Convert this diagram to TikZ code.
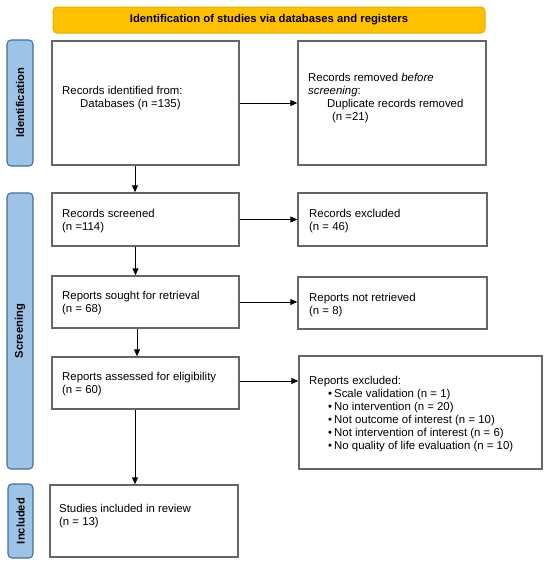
\documentclass[tikz,border=0pt]{standalone}
\usepackage{fontspec}
\setmainfont{Liberation Sans}
\usetikzlibrary{arrows.meta}
\begin{document}
\begin{tikzpicture}[x=1pt,y=-1pt,
  box/.style={draw=black!60, line width=1.4pt, fill=white, inner sep=0pt},
  side/.style={line width=1.1pt, fill=sideblue, rounded corners=4pt, inner sep=0pt},
  sidetext/.style={rotate=90, font=\fontsize{11.2}{13}\selectfont\bfseries, inner sep=0pt},
  txt/.style={anchor=north west, align=left, inner sep=0pt, font=\fontsize{11.4}{13}\selectfont},
  arr/.style={line width=1pt, -{Triangle[length=7pt,width=6pt]}}]
\definecolor{sideblue}{HTML}{9DC3E6}
\definecolor{sideedge}{HTML}{41719C}
\definecolor{headfill}{HTML}{FFC000}
\definecolor{headedge}{HTML}{E6AC00}
\useasboundingbox (0,0) rectangle (550,565);
\fill[white] (0,0) rectangle (550,565);
% header
\node[draw=headedge, line width=1pt, fill=headfill, rounded corners=4pt, minimum width=432pt, minimum height=26pt, inner sep=0pt,
  font=\fontsize{11.3}{13}\selectfont\bfseries] (head) at (269,20) {Identification of studies via databases and registers};
% side labels
\node[side, draw=sideedge, minimum width=26pt, minimum height=126pt] (L1) at (20,103) {};
\node[sidetext] (L1t) at (L1.center) {Identification};
\node[side, draw=sideedge, minimum width=26pt, minimum height=276pt] (L2) at (20,331) {};
\node[sidetext] (L2t) at (L2.center) {Screening};
\node[side, draw=sideedge, minimum width=25pt, minimum height=74pt] (L3) at (20.5,521) {};
\node[sidetext] (L3t) at (L3.center) {Included};
% boxes
\node[box, minimum width=187pt, minimum height=124pt] (B1) at (145.5,103) {};
\node[box, minimum width=188pt, minimum height=124pt] (B2) at (392,103) {};
\node[box, minimum width=187pt, minimum height=53pt] (S1) at (145.5,219.5) {};
\node[box, minimum width=189pt, minimum height=53pt] (S2) at (392.5,219.5) {};
\node[box, minimum width=187pt, minimum height=52pt] (R1) at (145.5,302) {};
\node[box, minimum width=189pt, minimum height=52pt] (R2) at (392.5,303) {};
\node[box, minimum width=187pt, minimum height=52pt] (A1) at (145.5,383) {};
\node[box, minimum width=243pt, minimum height=113pt] (A2) at (420.5,412.5) {};
\node[box, minimum width=188pt, minimum height=72pt] (I1) at (144,521) {};
% texts
\node[txt] (B1t) at (62,85.7) {Records identified from:\\\hspace*{18pt}Databases (n =135)};
\node[txt] (B2t) at (308,72.7) {Records removed \textit{before}\\\textit{screening}:\\\hspace*{19pt}Duplicate records removed\\\hspace*{24pt}(n =21)};
\node[txt] (S1t) at (62,208.7) {Records screened\\(n =114)};
\node[txt] (S2t) at (309,208.7) {Records excluded\\(n = 46)};
\node[txt] (R1t) at (62,290.7) {Reports sought for retrieval\\(n = 68)};
\node[txt] (R2t) at (309,292.7) {Reports not retrieved\\(n = 8)};
\node[txt] (A1t) at (62,371.7) {Reports assessed for eligibility\\(n = 60)};
\node[txt] (A2t) at (309,375.7) {Reports excluded:\\
\hspace*{19pt}\textbullet\hspace{2pt}Scale validation (n = 1)\\
\hspace*{19pt}\textbullet\hspace{2pt}No intervention (n = 20)\\
\hspace*{19pt}\textbullet\hspace{2pt}Not outcome of interest (n = 10)\\
\hspace*{19pt}\textbullet\hspace{2pt}Not intervention of interest (n = 6)\\
\hspace*{19pt}\textbullet\hspace{2pt}No quality of life evaluation (n = 10)};
\node[txt] (I1t) at (59,503.7) {Studies included in review\\(n = 13)};
% arrow anchor points
\coordinate (aA) at ([yshift=2pt]A1.east);
\coordinate (dA) at ([xshift=-10.5pt]A1.south);
% arrows
\draw[arr] (B1.east) -- (B2.west);
\draw[arr] ([xshift=-10.5pt]B1.south) -- ([xshift=-10.5pt]S1.north);
\draw[arr] (S1.east) -- (S2.west |- S1.east);
\draw[arr] ([xshift=-10pt]S1.south) -- ([xshift=-10pt]R1.north);
\draw[arr] (R1.east) -- (R2.west |- R1.east);
\draw[arr] ([xshift=-8.5pt]R1.south) -- ([xshift=-8.5pt]A1.north);
\draw[arr] (aA) -- (A2.west |- aA);
\draw[arr] (dA) -- (I1.north -| dA);
\end{tikzpicture}
\end{document}
